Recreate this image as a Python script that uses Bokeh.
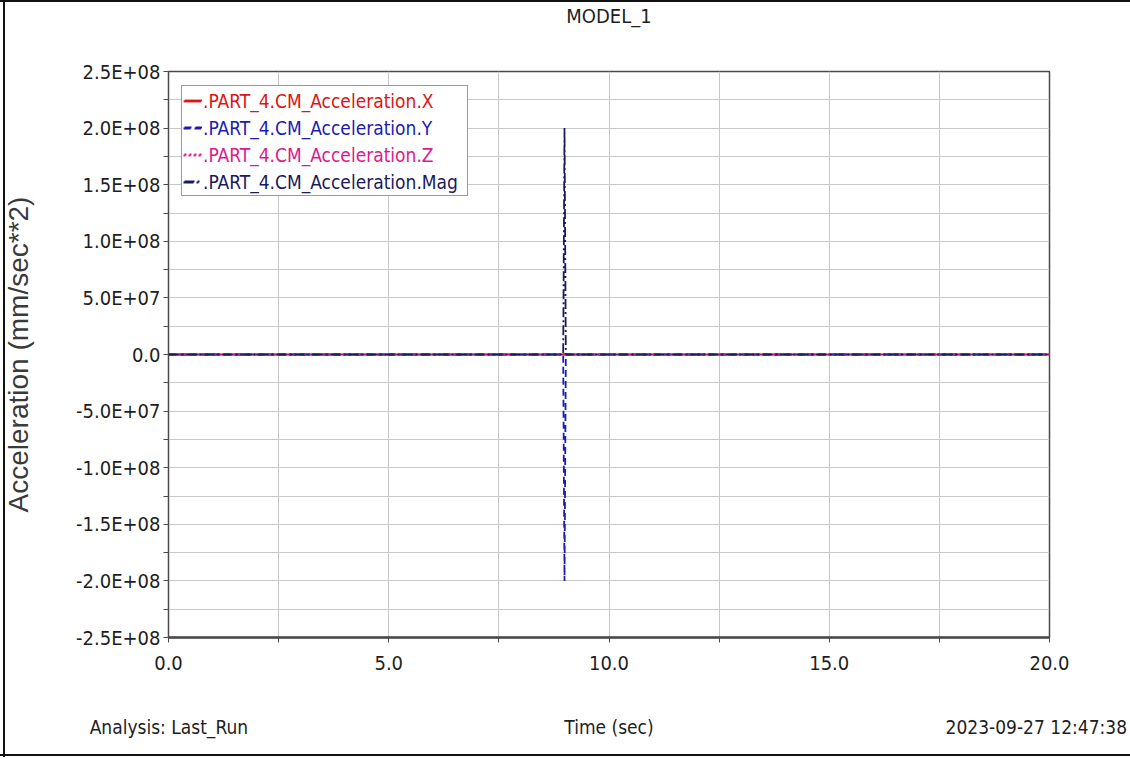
from bokeh.plotting import figure
from bokeh.models import FixedTicker, Legend, LegendItem, Range1d, LinearAxis
from bokeh.embed import file_html
from bokeh.resources import INLINE

# ---------------- data ----------------
time_s = [0.0, 8.93, 8.96, 8.99, 9.02, 20.0]
acc_x = [0.0, 0.0, 0.0, 0.0, 0.0, 0.0]
acc_y = [0.0, 0.0, 0.0, -2.0e8, 0.0, 0.0]
acc_z = [0.0, 0.0, 0.0, 0.0, 0.0, 0.0]
acc_mag = [0.0, 0.0, 0.0, 2.0e8, 0.0, 0.0]

series_names = [".PART_4.CM_Acceleration.X", ".PART_4.CM_Acceleration.Y",
                ".PART_4.CM_Acceleration.Z", ".PART_4.CM_Acceleration.Mag"]

x_ticks = [0.0, 5.0, 10.0, 15.0, 20.0]
x_tick_labels = ["0.0", "5.0", "10.0", "15.0", "20.0"]
x_minor = [2.5, 7.5, 12.5, 17.5]
y_ticks = [-2.5e8, -2.0e8, -1.5e8, -1.0e8, -5.0e7, 0.0, 5.0e7, 1.0e8, 1.5e8, 2.0e8, 2.5e8]
y_tick_labels = ["-2.5E+08", "-2.0E+08", "-1.5E+08", "-1.0E+08", "-5.0E+07", "0.0",
                 "5.0E+07", "1.0E+08", "1.5E+08", "2.0E+08", "2.5E+08"]
y_minor = [-2.25e8, -1.75e8, -1.25e8, -7.5e7, -2.5e7, 2.5e7, 7.5e7, 1.25e8, 1.75e8, 2.25e8]

title_text = "MODEL_1"
footer_texts = ["Analysis:  Last_Run", "Time (sec)", "2023-09-27 12:47:38"]
y_axis_title = "Acceleration (mm/sec**2)"

# ---------------- style ----------------
NARROW = "Liberation Sans Narrow, DejaVu Sans Condensed, sans-serif"
TXT = "#1e1e1e"
colors = ["#e01414", "#1c1cb4", "#e0188e", "#1a1a5c"]
dashes = ["solid", "7 4", "2 3", "10 3 2 3"]

W, H = 1130, 757
ML, MR, MT, MB = 167, 81, 69, 120
FW, FH = W - ML - MR, H - MT - MB

p = figure(width=W, height=H, output_backend="svg", toolbar_location=None,
           x_range=Range1d(0, 20), y_range=Range1d(-2.5e8, 2.5e8),
           min_border_left=ML, min_border_right=MR, min_border_top=MT, min_border_bottom=MB)
xa = p.xaxis[0]
ya = p.yaxis[0]
p.background_fill_color = "white"
p.border_fill_alpha = 0.0
p.outline_line_color = "#4a4a4a"
p.outline_line_width = 1.5
# thin black frame around the whole picture (left, top, bottom)
line = "linear-gradient(#111111, #111111)"
p.styles = {
    "background": (f"{line} 3px 0px / 2px 100% no-repeat, "
                   f"{line} 0px 0px / 100% 2px no-repeat, "
                   f"{line} 0px 754px / 100% 2px no-repeat, white"),
}

# axes
xa.ticker = FixedTicker(ticks=x_ticks, minor_ticks=x_minor)
ya.ticker = FixedTicker(ticks=y_ticks, minor_ticks=y_minor)
xa.major_label_overrides = {t: l for t, l in zip(x_ticks, x_tick_labels)}
ya.major_label_overrides = {t: l for t, l in zip(y_ticks, y_tick_labels)}
for ax in (xa, ya):
    ax.axis_line_color = "#4a4a4a"
    ax.major_tick_line_color = "#4a4a4a"
    ax.minor_tick_line_color = "#4a4a4a"
    ax.major_tick_in = 0
    ax.major_tick_out = 5
    ax.minor_tick_in = 0
    ax.minor_tick_out = 5
    ax.major_label_text_font = NARROW
    ax.major_label_text_font_size = "20px"
    ax.major_label_text_color = TXT
    ax.major_label_standoff = 3
xa.axis_line_width = 2.5
xa.major_label_standoff = 13

ya.axis_label = y_axis_title
ya.axis_label_text_font = "Liberation Sans"
ya.axis_label_text_font_size = "28px"
ya.axis_label_text_font_style = "normal"
ya.axis_label_text_color = "#3a3a3a"
ya.axis_label_standoff = 39

# extra range used for the text-only rows (title above, footer below)
p.extra_x_ranges = {"txt": Range1d(0, 1)}

def text_axis(pos, texts, standoff, size):
    return LinearAxis(x_range_name="txt", ticker=FixedTicker(ticks=pos, minor_ticks=[]),
                      major_label_overrides={t: s for t, s in zip(pos, texts)},
                      axis_line_alpha=0, major_tick_line_alpha=0, minor_tick_line_alpha=0,
                      major_tick_in=0, major_tick_out=0, minor_tick_in=0, minor_tick_out=0,
                      major_label_standoff=standoff, major_label_text_font=NARROW,
                      major_label_text_font_size=size, major_label_text_color=TXT)

# title row and footer row (analysis name, x-axis title, time stamp)
p.add_layout(text_axis([0.5], [title_text], 44, "20px"), "above")
p.add_layout(text_axis([0.0035, 0.5, 0.985], footer_texts, 43, "19px"), "below")

# grid
for g in (p.xgrid[0], p.ygrid[0]):
    g.grid_line_color = "#c8c8c8"
    g.grid_line_width = 1
    g.minor_grid_line_color = "#c8c8c8"
    g.minor_grid_line_width = 1

# series
ys = [acc_x, acc_y, acc_z, acc_mag]
renderers = []
for yv, c, d in zip(ys, colors, dashes):
    r = p.line(time_s, yv, line_color=c, line_width=1.8, line_dash=d)
    renderers.append(r)

# legend box + coloured labels
PAD, ROW, SP = 2, 24, 3
BOX_X, BOX_TOP = 13, 18
BOX_H = 2 * PAD + 4 * ROW + 3 * SP
common = dict(padding=PAD, spacing=SP, label_height=ROW, glyph_height=ROW, glyph_width=18,
              label_standoff=2, label_text_font=NARROW, label_text_font_size="19px", margin=0)
box = Legend(items=[LegendItem(label=n, renderers=[r]) for n, r in zip(series_names, renderers)],
             location=(BOX_X, FH - BOX_TOP - BOX_H), label_text_alpha=0, label_width=261,
             border_line_color="#333333", border_line_width=1.2,
             background_fill_color="white", background_fill_alpha=1.0, **common)
p.add_layout(box, "center")
for i, (n, r, c) in enumerate(zip(series_names, renderers, colors)):
    h1 = 2 * PAD + ROW
    lg = Legend(items=[LegendItem(label=n, renderers=[r])],
                location=(BOX_X, FH - BOX_TOP - i * (ROW + SP) - h1),
                label_text_color=c, border_line_alpha=0, background_fill_alpha=0, **common)
    p.add_layout(lg, "center")

open("out.html", "w").write(file_html(p, INLINE))
